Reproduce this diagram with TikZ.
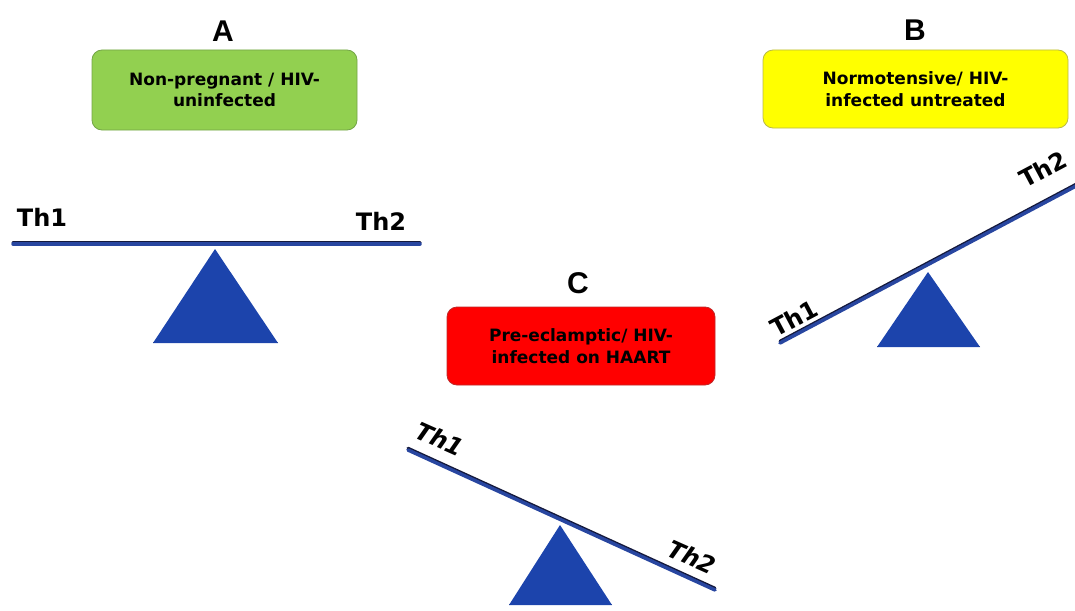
\documentclass[tikz,border=0pt]{standalone}
\usepackage{fontspec}
\setmainfont{Liberation Sans}
\newfontfamily\thfont{DejaVu Sans}
\definecolor{beamblue}{RGB}{40,70,160}
\definecolor{beamdark}{RGB}{20,25,60}
\definecolor{tri}{RGB}{28,68,172}
\definecolor{gfill}{RGB}{146,208,80}
\definecolor{gdraw}{RGB}{115,165,70}
\definecolor{yfill}{RGB}{255,255,0}
\definecolor{ydraw}{RGB}{185,185,70}
\definecolor{rfill}{RGB}{255,0,0}
\definecolor{rdraw}{RGB}{190,40,40}
\begin{document}
\begin{tikzpicture}[x=1pt,y=-1pt,
  panel/.style={font=\fontsize{30}{30}\selectfont\bfseries},
  stbox/.style={rounded corners=10pt, line width=0.8pt, align=center,
    font=\thfont\fontsize{17}{21.5}\selectfont\bfseries, inner sep=0pt},
  thlab/.style={font=\thfont\fontsize{24}{24}\selectfont\bfseries},
  beamsh/.style={draw=beamdark, line width=3pt, line cap=round},
  beam/.style={draw=beamblue, line width=3.5pt, line cap=round},
  fulcrum/.style={fill=tri, draw=none}]
\useasboundingbox (0,0) rectangle (1075,610);
% ---- A ----
\node[panel] (lA) at (223,31) {A};
\node[stbox, fill=gfill, draw=gdraw, minimum width=265pt, minimum height=80pt] (bA) at (224.5,90) {Non-pregnant / HIV-\\uninfected};
\coordinate (a1) at (13,244); \coordinate (a2) at (420,244);
\coordinate (ap) at (215,249); \coordinate (al) at (153,343); \coordinate (ar) at (278,343);
\fill[beamdark!80] ([yshift=1.5pt]al) -- ([yshift=1.5pt]ar) -- (ar) -- (al) -- cycle;
\path[fulcrum] (ap) -- (ar) -- (al) -- cycle;
\draw[beamsh] ([yshift=1.8pt]a1) -- ([yshift=1.8pt]a2);
\draw[beam] (a1) -- (a2);
\node[thlab] (tA1) at (42,217) {Th1};
\node[thlab] (tA2) at (381,221) {Th2};
% ---- B ----
\node[panel] (lB) at (915,30) {B};
\node[stbox, fill=yfill, draw=ydraw, minimum width=305pt, minimum height=78pt] (bB) at (915.5,89) {Normotensive/ HIV-\\infected untreated};
\coordinate (b1) at (780,343); \coordinate (b2) at (1076,186);
\coordinate (bp) at (928,272); \coordinate (bl) at (877,347); \coordinate (br) at (980,347);
\fill[beamdark!80] ([yshift=1.5pt]bl) -- ([yshift=1.5pt]br) -- (br) -- (bl) -- cycle;
\path[fulcrum] (bp) -- (br) -- (bl) -- cycle;
\draw[beamsh] ([yshift=1.8pt]b1) -- ([yshift=1.8pt]b2);
\draw[beam] (b1) -- (b2);
\node[thlab, rotate=28] (tB1) at (794,318) {Th1};
\node[thlab, rotate=28] (tB2) at (1043,169) {Th2};
% ---- C ----
\node[panel] (lC) at (578,283) {C};
\node[stbox, fill=rfill, draw=rdraw, minimum width=268pt, minimum height=78pt] (bC) at (581,346) {Pre-eclamptic/ HIV-\\infected on HAART};
\coordinate (c1) at (408,450); \coordinate (c2) at (715,590);
\coordinate (cp) at (560,525); \coordinate (cl) at (509,605); \coordinate (cr) at (612,605);
\fill[beamdark!80] ([yshift=1.5pt]cl) -- ([yshift=1.5pt]cr) -- (cr) -- (cl) -- cycle;
\path[fulcrum] (cp) -- (cr) -- (cl) -- cycle;
\draw[beamsh] ([yshift=1.8pt]c1) -- ([yshift=1.8pt]c2);
\draw[beam] (c1) -- (c2);
\node[thlab, font=\thfont\fontsize{24}{24}\selectfont\bfseries\itshape, rotate=-24] (tC1) at (440,439) {Th1};
\node[thlab, font=\thfont\fontsize{24}{24}\selectfont\bfseries\itshape, rotate=-24] (tC2) at (692,557) {Th2};
\end{tikzpicture}
\end{document}
